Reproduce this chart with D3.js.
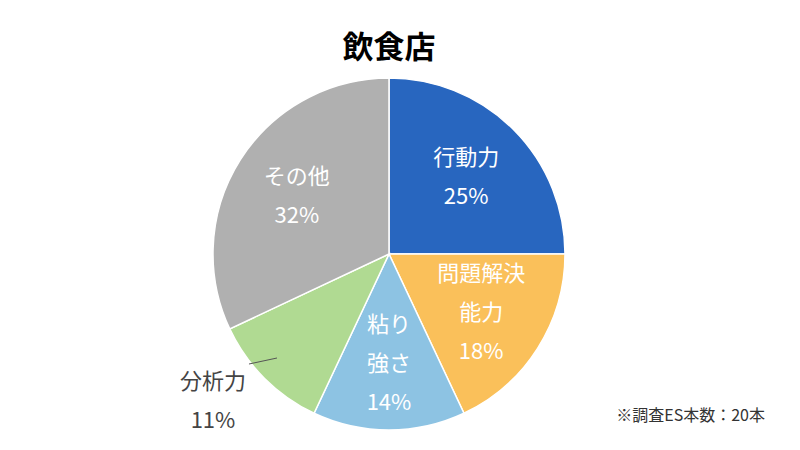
<!DOCTYPE html>
<html><head><meta charset="utf-8">
<script src="https://cdn.jsdelivr.net/npm/d3@7"></script>
<style>body{margin:0;background:#fff}svg{font-family:"Noto Sans CJK JP","Noto Sans",sans-serif}</style>
</head><body><svg id="c" width="800" height="450"></svg>
<script>
const categories=[["行動力"],["問題解決","能力"],["粘り","強さ"],["分析力"],["その他"]];
const values=[25,18,14,11,32];
const colors=["#2866BF","#FAC05A","#8DC3E3","#B0DA92","#B0B0B0"];
const svg=d3.select("#c");
const cx=389,cy=254,r=176;
svg.append("text").attr("x",cx).attr("y",58).attr("text-anchor","middle").attr("font-size",31).attr("font-weight","bold").text("飲食店");
const pie=d3.pie().sort(null).value(d=>d)(values);
const arc=d3.arc().innerRadius(0).outerRadius(r);
const g=svg.append("g").attr("transform",`translate(${cx},${cy})`);
g.selectAll("path").data(pie).join("path").attr("d",arc).attr("fill",(d,i)=>colors[i]).attr("stroke","#fff").attr("stroke-width",1.5);
const lab=d3.arc().innerRadius(r*0.62).outerRadius(r*0.62);
pie.forEach((d,i)=>{
  const lines=[...categories[i],values[i]+"%"];
  let x,y,fill="#fff";
  if(i===3){
    const p=d3.arc().innerRadius(r*0.9).outerRadius(r*0.9).centroid(d);
    g.append("line").attr("x1",p[0]-0).attr("y1",p[1]-8).attr("x2",p[0]-28).attr("y2",p[1]-2).attr("stroke","#555");
    x=-176;y=146;fill="#444";
  } else {[x,y]=lab.centroid(d);}
  const lh=39,n=lines.length;
  const t=g.append("text").attr("text-anchor","middle").attr("fill",fill).attr("font-size",22);
  lines.forEach((s,k)=>t.append("tspan").attr("x",x).attr("y",y+(k-(n-1)/2)*lh+8).text(s));
});
svg.append("text").attr("x",765).attr("y",421).attr("text-anchor","end").attr("font-size",16).attr("fill","#333").text("※調査ES本数：20本");
</script></body></html>
